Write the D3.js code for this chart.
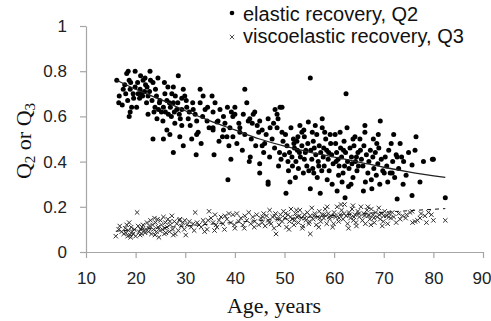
<!DOCTYPE html>
<html>
<head>
<meta charset="utf-8">
<script src="https://cdn.jsdelivr.net/npm/d3@7"></script>
<style>
  body { margin: 0; background: #fff; }
  svg { display: block; }
</style>
</head>
<body>
<div id="chart"></div>
<script>
// tick values
const xTicks = [10, 20, 30, 40, 50, 60, 70, 80, 90]
const yTicks = [0, 0.2, 0.4, 0.6, 0.8, 1]

const legendLabels = ['elastic recovery, Q2', 'viscoelastic recovery, Q3']

// elastic recovery Q2 [age, value]
const q2Points = [
  [16.2, .76], [16.7, .69], [16.6, .66], [17.5, .72], [18.2, .79], [18.5, .80], [18.7, .76], [18.9, .72], [19.2, .64], [18.7, .60],
  [18.4, .67], [19.9, .80], [19.9, .73], [17.8, .74], [18.0, .70], [19.5, .70], [19.0, .75], [19.6, .68], [17.3, .65], [18.9, .62],
  [20.2, .64], [20.5, .70], [20.9, .72], [21.5, .76], [21.9, .77], [22.9, .80], [22.3, .73], [22.5, .69], [23.5, .75], [24.5, .77],
  [23.3, .67], [23.9, .64], [22.5, .61], [24.3, .59], [23.5, .50], [20.8, .68], [21.2, .70], [21.8, .71], [22.0, .74], [22.8, .71],
  [23.0, .76], [24.0, .72], [24.2, .69], [24.8, .66], [20.4, .75], [21.0, .78], [23.7, .62], [24.6, .63], [22.2, .66], [21.4, .69],
  [25.6, .50], [24.9, .67], [25.6, .64], [26.3, .67], [26.6, .61], [27.3, .70], [27.6, .73], [28.6, .78], [27.6, .66], [28.3, .63],
  [26.3, .54], [26.9, .52], [27.9, .57], [29.3, .63], [29.3, .68], [29.9, .69], [29.6, .72], [29.3, .56], [29.6, .47], [28.9, .51],
  [27.6, .44], [25.2, .62], [25.9, .70], [26.5, .73], [27.0, .64], [28.0, .69], [28.8, .61], [25.5, .58], [26.0, .62], [27.2, .60],
  [28.5, .66], [29.0, .59], [25.8, .75], [27.8, .62], [26.8, .66],
  [30.3, .64], [30.6, .59], [31.3, .50], [32.3, .52], [33.0, .66], [33.6, .69], [31.6, .63], [33.0, .72], [32.3, .58], [32.6, .53],
  [32.2, .43], [30.8, .62], [31.5, .66], [32.0, .61], [33.5, .60], [34.0, .63], [34.4, .58], [30.2, .67], [31.0, .56], [34.8, .55],
  [33.2, .48], [34.5, .64],
  [35.4, .69], [35.6, .55], [35.6, .62], [36.6, .58], [37.7, .54], [38.4, .51], [39.6, .51], [39.0, .55], [39.6, .60], [37.7, .60],
  [38.0, .57], [36.4, .575], [35.6, .54], [35.8, .43], [39.2, .41], [38.6, .32], [36.0, .66], [37.0, .63], [38.5, .64], [39.3, .62],
  [36.8, .49], [37.5, .51], [38.8, .47],
  [40.4, .48], [40.0, .64], [42.0, .72], [42.4, .66], [41.0, .55], [41.0, .53], [40.0, .61], [41.7, .61], [43.0, .59], [44.0, .62],
  [42.7, .58], [43.5, .57], [42.9, .40], [43.1, .42], [43.7, .61], [44.5, .56], [42.0, .52], [43.3, .50], [44.2, .47], [40.8, .57],
  [41.5, .45], [44.8, .53],
  [45.0, .58], [45.0, .39], [45.0, .35], [46.7, .59], [48.1, .63], [49.1, .64], [48.7, .59], [47.1, .55], [45.5, .54], [48.5, .55],
  [49.5, .53], [46.7, .31], [46.7, .30], [48.5, .61], [49.5, .64], [47.5, .50], [46.0, .48], [48.0, .46], [49.0, .44], [45.8, .44],
  [47.0, .42], [49.7, .49], [46.3, .52], [47.8, .57], [48.8, .38], [45.5, .47], [49.3, .41],
  [50.3, .26], [51.1, .31], [53.1, .56], [54.8, .575], [53.5, .53], [52.7, .51], [52.5, .49], [54.0, .51], [54.3, .45], [50.5, .47],
  [51.0, .44], [51.5, .42], [52.0, .46], [52.3, .40], [53.0, .44], [53.5, .47], [54.0, .41], [54.5, .38], [50.8, .36], [51.8, .50],
  [52.8, .37], [53.8, .35], [50.2, .52], [51.3, .55], [52.2, .33], [54.7, .48], [53.2, .42], [50.7, .40], [51.6, .38], [54.2, .44],
  [52.6, .45], [53.9, .54], [50.0, .43], [51.9, .48], [54.9, .36],
  [55.2, .77], [55.2, .28], [57.2, .26], [55.6, .53], [57.6, .59], [57.6, .55], [56.5, .52], [55.8, .49], [56.0, .46], [56.3, .43],
  [56.8, .40], [57.0, .47], [57.3, .44], [57.8, .42], [58.0, .38], [58.3, .50], [58.5, .45], [58.8, .41], [59.0, .36], [59.3, .48],
  [59.5, .43], [59.8, .39], [55.5, .41], [55.9, .35], [56.6, .33], [57.5, .36], [58.6, .32], [59.6, .30], [55.3, .45], [56.2, .56],
  [58.1, .53], [59.2, .52], [57.9, .46], [56.9, .38], [58.9, .44], [55.7, .37],
  [60.6, .27], [62.2, .24], [62.4, .70], [61.2, .53], [62.6, .55], [63.8, .50], [60.3, .48], [60.5, .44], [60.8, .41], [61.0, .38],
  [61.3, .46], [61.5, .42], [61.8, .35], [62.0, .49], [62.3, .44], [62.7, .40], [63.0, .37], [63.2, .46], [63.5, .42], [63.8, .33],
  [64.0, .47], [64.3, .40], [64.6, .36], [64.8, .44], [60.2, .52], [61.6, .31], [62.9, .29], [63.6, .39], [64.2, .51], [60.9, .34],
  [62.1, .38], [63.4, .30], [64.5, .42], [61.9, .45], [60.4, .40], [64.9, .38],
  [66.2, .56], [66.2, .53], [69.3, .58], [67.9, .50], [68.6, .48], [65.3, .45], [65.5, .41], [65.8, .38], [66.0, .47], [66.5, .43],
  [66.8, .35], [67.0, .40], [67.3, .45], [67.5, .32], [67.8, .42], [68.0, .37], [68.3, .44], [68.5, .34], [68.8, .39], [69.0, .46],
  [69.5, .41], [69.8, .36], [65.2, .50], [66.3, .31], [67.6, .28], [69.2, .30], [65.9, .27], [68.9, .52],
  [73.3, .48], [76.5, .51], [76.3, .45], [79.8, .41], [78.0, .40], [80.0, .41], [73.9, .30], [72.7, .235], [75.7, .25], [77.3, .31],
  [82.4, .24], [70.3, .42], [70.6, .38], [71.0, .45], [71.3, .35], [71.8, .40], [72.2, .33], [72.5, .43], [73.0, .37], [74.0, .40],
  [74.5, .34], [75.0, .44], [70.8, .31], [71.5, .48], [72.0, .52], [70.1, .35], [73.6, .42], [75.7, .385], [71.7, .35], [72.7, .42]
]

// viscoelastic recovery Q3 [age, value]
const q3Points = [
  [16.0, .07], [16.6, .10], [16.8, .115], [17.2, .09], [17.6, .08], [18.0, .085], [18.2, .12], [18.4, .07], [18.6, .095], [18.9, .075],
  [19.1, .11], [19.3, .09], [19.5, .08], [19.8, .10], [20.0, .07], [20.3, .175], [20.5, .115], [20.7, .09], [21.0, .10], [21.2, .08],
  [21.5, .12], [21.7, .095], [21.9, .085], [17.9, .105], [19.0, .065], [20.9, .075], [18.7, .13], [21.3, .11],
  [22.1, .10], [22.3, .13], [22.6, .09], [22.8, .115], [23.0, .14], [23.2, .08], [23.4, .12], [23.6, .10], [23.8, .15], [24.0, .13],
  [24.2, .09], [24.5, .11], [24.7, .065], [25.0, .14], [25.2, .12], [25.4, .10], [25.6, .155], [25.8, .08], [26.0, .13], [26.3, .11],
  [26.5, .145], [26.8, .09], [27.0, .12], [27.3, .16], [27.5, .10], [27.8, .135], [28.0, .08], [28.3, .125], [28.6, .095], [28.9, .145],
  [29.2, .115], [29.5, .13], [29.8, .10], [30.1, .075], [22.7, .105], [23.9, .075], [24.9, .095], [25.9, .105], [26.9, .135], [27.6, .075],
  [28.8, .14], [29.9, .14], [24.4, .145], [26.1, .085],
  [30.4, .12], [30.8, .135], [31.2, .11], [31.6, .125], [32.0, .175], [32.4, .13], [32.8, .12], [33.2, .11], [33.6, .14], [34.0, .125],
  [34.4, .10], [34.8, .18], [35.2, .15], [35.6, .13], [36.0, .165], [36.4, .11], [36.8, .14], [37.2, .155], [37.6, .125], [38.0, .16],
  [38.4, .145], [38.8, .17], [39.2, .13], [39.6, .165], [40.0, .105], [40.4, .17], [40.8, .135], [41.2, .15], [41.6, .12], [42.0, .16],
  [42.4, .14], [42.8, .175], [43.2, .125], [43.6, .155], [44.0, .135], [44.4, .165], [44.8, .12], [31.8, .095], [33.9, .09], [35.9, .095],
  [37.9, .10], [39.9, .12], [41.9, .105], [43.9, .11], [36.2, .12], [34.6, .14],
  [45.2, .15], [45.5, .13], [45.8, .17], [46.1, .115], [46.4, .16], [46.7, .14], [47.0, .185], [47.3, .125], [47.6, .155], [47.9, .105],
  [48.2, .17], [48.3, .08], [48.6, .145], [48.9, .12], [49.2, .165], [49.5, .135], [49.8, .18], [50.1, .15], [50.4, .11], [50.7, .165],
  [51.0, .135], [51.3, .19], [51.6, .145], [51.9, .12], [52.2, .17], [52.5, .155], [52.8, .13], [53.1, .185], [53.4, .15], [53.7, .115],
  [54.0, .165], [54.3, .14], [54.6, .175], [54.9, .125], [55.2, .08], [55.2, .16], [55.5, .195], [55.8, .145], [56.1, .17], [56.4, .12],
  [56.7, .155], [57.0, .18], [57.3, .135], [57.6, .165], [57.9, .15], [58.2, .19], [58.5, .125], [58.8, .17], [59.1, .145], [59.4, .16],
  [59.7, .11], [60.0, .175], [60.3, .155], [60.6, .20], [60.9, .135], [61.2, .165], [61.5, .185], [61.8, .145], [62.1, .21], [62.4, .16],
  [62.7, .125], [63.0, .175], [63.3, .15], [63.6, .19], [63.9, .14], [64.2, .165], [64.5, .115], [64.8, .18], [65.1, .155], [65.4, .20],
  [65.7, .14], [66.0, .17], [66.3, .125], [66.6, .185], [66.9, .16], [67.2, .145], [67.5, .19], [67.8, .165], [68.1, .13], [68.4, .175],
  [68.7, .155], [69.0, .195], [69.3, .145], [69.6, .17], [69.9, .135], [70.2, .18], [70.5, .16], [70.8, .125], [71.1, .17], [71.4, .15],
  [71.7, .175], [45.6, .155], [46.9, .13], [48.0, .16], [49.0, .145], [50.2, .17], [51.2, .155], [52.0, .14], [53.0, .16], [54.1, .15],
  [55.0, .135], [56.0, .16], [57.1, .15], [58.0, .165], [59.0, .155], [60.1, .16], [61.0, .15], [62.0, .17], [63.1, .165], [64.0, .155],
  [65.0, .17], [66.1, .16], [67.0, .165], [68.0, .15], [69.1, .165], [70.0, .16], [71.0, .155], [50.9, .10], [53.6, .105], [56.9, .11],
  [59.9, .125], [62.9, .105], [64.4, .13], [67.4, .12], [69.7, .115], [52.4, .185], [58.6, .20], [61.4, .21], [63.8, .205], [66.8, .20],
  [72.0, .155], [72.5, .13], [73.0, .17], [73.3, .145], [73.8, .16], [74.4, .15], [75.3, .175], [75.8, .13], [76.3, .135], [76.8, .14],
  [77.3, .15], [77.5, .17], [78.3, .16], [79.0, .175], [79.6, .165], [80.0, .14], [82.4, .14], [78.6, .13], [74.6, .165], [75.7, .18]
]

// fitted trend lines [age, value]
const q2Trend = [[16.2, .76], [20, .72], [25, .675], [30, .625], [35, .58], [40, .54], [45, .50], [50, .468], [55, .442], [60, .42], [65, .398], [70, .375], [75, .355], [82.4, .33]]
const q3Trend = [[16, .092], [30, .115], [50, .147], [70, .176], [82.4, .192]]

const W = 491
const H = 321

const svg = d3
  .select('#chart')
  .append('svg')
  .attr('width', W)
  .attr('height', H)

const x = d3.scaleLinear().domain([10, 90]).range([86, 483])
const y = d3.scaleLinear().domain([0, 1]).range([252, 26])

const axisColor = '#a6a6a6'

// axes
const gx = svg
  .append('g')
  .attr('transform', `translate(0,${y(0)})`)
  .call(d3.axisBottom(x).tickValues(xTicks).tickSize(6).tickSizeOuter(0).tickPadding(14))
const gy = svg
  .append('g')
  .attr('transform', `translate(${x(10)},0)`)
  .call(d3.axisLeft(y).tickValues(yTicks).tickFormat(d3.format('~g')).tickSize(6).tickSizeOuter(0).tickPadding(13))

;[gx, gy].forEach((g) => {
  g.select('.domain').attr('stroke', axisColor).attr('stroke-width', 1.2)
  g.selectAll('.tick line').attr('stroke', axisColor).attr('stroke-width', 1.2)
  g.selectAll('.tick text')
    .attr('fill', '#222')
    .attr('font-family', 'Liberation Sans, Arial, sans-serif')
    .attr('font-size', 17)
})
// last label sits right at the window edge, pull it in a little
gx.selectAll('.tick text').filter((d) => d === 90).attr('text-anchor', 'end').attr('dx', 8)

// Q3 crosses
const cross = 'M-2.2,-2.2L2.2,2.2M-2.2,2.2L2.2,-2.2'
svg
  .append('g')
  .selectAll('path')
  .data(q3Points)
  .join('path')
  .attr('d', cross)
  .attr('transform', (d) => `translate(${x(d[0])},${y(d[1])})`)
  .attr('fill', 'none')
  .attr('stroke', '#2e2e2e')
  .attr('stroke-width', 1)

const line = d3
  .line()
  .x((d) => x(d[0]))
  .y((d) => y(d[1]))
  .curve(d3.curveMonotoneX)

svg
  .append('path')
  .datum(q3Trend)
  .attr('d', line)
  .attr('fill', 'none')
  .attr('stroke', '#111')
  .attr('stroke-width', 1)
  .attr('stroke-dasharray', '4,4')

// Q2 dots
svg
  .append('g')
  .selectAll('circle')
  .data(q2Points)
  .join('circle')
  .attr('cx', (d) => x(d[0]))
  .attr('cy', (d) => y(d[1]))
  .attr('r', 2.5)
  .attr('fill', '#000')

svg
  .append('path')
  .datum(q2Trend)
  .attr('d', line)
  .attr('fill', 'none')
  .attr('stroke', '#222')
  .attr('stroke-width', 1.3)

// legend
const legend = svg.append('g').attr('font-family', 'Liberation Sans, Arial, sans-serif').attr('font-size', 20).attr('fill', '#111')
legend.append('circle').attr('cx', 232).attr('cy', 13).attr('r', 2.3).attr('fill', '#000')
legend
  .append('path')
  .attr('d', cross)
  .attr('transform', 'translate(232,37)')
  .attr('fill', 'none')
  .attr('stroke', '#3a3a3a')
  .attr('stroke-width', 0.9)
legend.append('text').attr('x', 243).attr('y', 21).text(legendLabels[0])
legend.append('text').attr('x', 243).attr('y', 43).text(legendLabels[1])

// axis titles
svg
  .append('text')
  .attr('x', 274)
  .attr('y', 313)
  .attr('text-anchor', 'middle')
  .attr('font-family', 'Liberation Serif, Times New Roman, serif')
  .attr('font-size', 22)
  .attr('fill', '#111')
  .text('Age, years')

const yTitle = svg
  .append('text')
  .attr('transform', 'translate(31,141) rotate(-90)')
  .attr('text-anchor', 'middle')
  .attr('font-family', 'Liberation Serif, Times New Roman, serif')
  .attr('font-size', 22)
  .attr('fill', '#111')
yTitle.append('tspan').text('Q')
yTitle.append('tspan').attr('font-size', 15).attr('dy', 4).text('2')
yTitle.append('tspan').attr('dy', -4).text(' or Q')
yTitle.append('tspan').attr('font-size', 15).attr('dy', 4).text('3')
</script>
</body>
</html>
